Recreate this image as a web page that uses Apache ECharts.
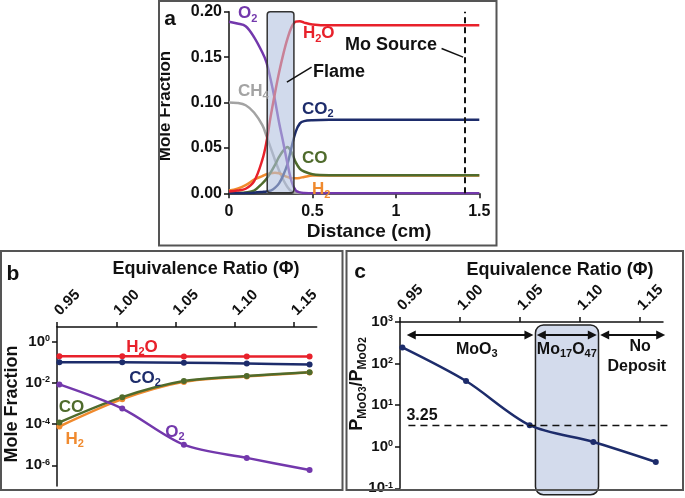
<!DOCTYPE html>
<html><head><meta charset="utf-8">
<script src="https://cdn.jsdelivr.net/npm/echarts@6/dist/echarts.min.js"></script>
<style>html,body{margin:0;padding:0;background:#fff}#c{width:685px;height:498px}</style>
</head><body><div id="c"></div><script>
// ---------- Panel a: mole fraction vs distance ----------
const distance = [0,0.05,0.1,0.15,0.2,0.225,0.25,0.275,0.3,0.325,0.35,0.375,0.4,0.425,0.45,0.5,0.6,0.8,1.0,1.2,1.5];
const aO2  = [0.189,0.187,0.184,0.172,0.155,0.144,0.125,0.103,0.078,0.056,0.033,0.013,0.003,0.001,0.0004,0,0,0,0,0,0];
const aH2O = [0.002,0.003,0.005,0.013,0.037,0.057,0.085,0.110,0.133,0.153,0.170,0.183,0.189,0.1895,0.188,0.186,0.185,0.185,0.185,0.185,0.185];
const aCH4 = [0.100,0.0995,0.097,0.089,0.075,0.063,0.050,0.037,0.025,0.015,0.007,0.002,0.0005,0,0,0,0,0,0,0,0];
const aCO2 = [0,0,0.0003,0.0007,0.0015,0.002,0.003,0.006,0.011,0.020,0.032,0.051,0.068,0.077,0.0795,0.0805,0.081,0.081,0.081,0.081,0.081];
const aCO  = [0,0.0005,0.001,0.003,0.011,0.016,0.023,0.031,0.040,0.047,0.051,0.045,0.034,0.027,0.024,0.021,0.020,0.020,0.020,0.020,0.020];
const aH2  = [0.003,0.005,0.009,0.015,0.019,0.021,0.022,0.0225,0.022,0.020,0.018,0.0165,0.0165,0.017,0.018,0.0195,0.0195,0.0195,0.0195,0.0195,0.0195];
const distTicks = [0,0.5,1,1.5];
const fracTicks = [0,0.05,0.10,0.15,0.20];
const moSource = 1.413;
const flameRange = [0.229, 0.389];

// ---------- Panel b: mole fraction vs equivalence ratio ----------
const phiB = [0.952,1.005,1.057,1.110,1.163];
const bH2O = [0.19,0.19,0.188,0.187,0.185];
const bCO2 = [0.098,0.097,0.092,0.086,0.076];
const bCO  = [1.2e-4,2.0e-3,0.012,0.021,0.032];
const bH2  = [7.6e-5,1.6e-3,0.011,0.020,0.031];
const bO2  = [8.3e-3,5.6e-4,1.0e-5,2.3e-6,6.0e-7];
const phiTicks = [0.95,1.00,1.05,1.10,1.15];
const bLogTicks = [1,1e-2,1e-4,1e-6];

// ---------- Panel c: P_MoO3/P_MoO2 ----------
const phiC = [0.952,1.005,1.058,1.111,1.163];
const cRatio = [245,38,3.3,1.3,0.43];
const cLogTicks = [1000,100,10,1,0.1];
const threshold = 3.25;
const thresholdSpan = [0.957, 1.175];
const regionBounds = [0.9556,1.0611,1.0639,1.1139,1.1167,1.1708];
const mo17Range = [1.0628,1.1153];

const FONT = '"Liberation Sans", Arial, sans-serif';
const C = {O2:'#7338ac', H2O:'#e8212b', CH4:'#a3a3a3', CO2:'#1d2c6b', CO:'#4f6b2c', H2:'#f08a2e', ink:'#111'};

const chart = echarts.init(document.getElementById('c'));
const zip = (xs, ys) => xs.map((x,i)=>[x, ys[i]]);
const supFmt = v => '10{e|' + Math.round(Math.log10(v)) + '}';
const supRich = {e:{fontSize:9, fontWeight:'bold', fontFamily:FONT, verticalAlign:'top', lineHeight:8, color:C.ink}};

const baseAxis = {
  axisLine:{lineStyle:{color:C.ink, width:1.5}},
  axisTick:{lineStyle:{color:C.ink, width:1.5}, length:5},
  splitLine:{show:false},
  axisLabel:{color:C.ink, fontWeight:'bold', fontFamily:FONT}
};

function lineA(name, ys, color, extra) {
  return Object.assign({type:'line', name, xAxisIndex:0, yAxisIndex:0, data:zip(distance, ys),
    smooth:0.35, showSymbol:false, symbol:'none', lineStyle:{color, width:2.5}, itemStyle:{color}, z:3}, extra||{});
}
function lineB(name, ys, color) {
  return {type:'line', name, xAxisIndex:1, yAxisIndex:1, data:zip(phiB, ys), smooth:0.3,
    symbol:'circle', symbolSize:6, lineStyle:{color, width:2.5}, itemStyle:{color}, z:3};
}
const topLabel = Object.assign({}, baseAxis.axisLabel, {fontSize:15, rotate:-45, margin:14, customValues:phiTicks, formatter:v=>v.toFixed(2)});

chart.setOption({
  animation:false,
  textStyle:{fontFamily:FONT},
  grid:[
    {left:229, top:11.7, width:250.3, height:181.6},
    {left:57, top:327, width:259.7, height:159},
    {left:400, top:322, width:263, height:166.3}
  ],
  xAxis:[
    Object.assign({}, baseAxis, {gridIndex:0, type:'value', min:0, max:1.5, interval:0.5,
      axisLabel:Object.assign({}, baseAxis.axisLabel, {fontSize:16, margin:10})}),
    Object.assign({}, baseAxis, {gridIndex:1, type:'value', position:'top', min:0.95, max:1.169,
      axisLabel:topLabel, axisTick:Object.assign({}, baseAxis.axisTick, {customValues:phiTicks})}),
    Object.assign({}, baseAxis, {gridIndex:2, type:'value', position:'top', min:0.95, max:1.169,
      axisLabel:topLabel, axisTick:Object.assign({}, baseAxis.axisTick, {customValues:phiTicks})})
  ],
  yAxis:[
    Object.assign({}, baseAxis, {gridIndex:0, type:'value', min:0, max:0.2, interval:0.05,
      axisLabel:Object.assign({}, baseAxis.axisLabel, {fontSize:16, margin:7, formatter:v=>v.toFixed(2)})}),
    Object.assign({}, baseAxis, {gridIndex:1, type:'log', logBase:10, min:1e-7, max:5,
      axisLabel:Object.assign({}, baseAxis.axisLabel, {fontSize:15, margin:7, customValues:bLogTicks, formatter:supFmt, rich:supRich}),
      axisTick:Object.assign({}, baseAxis.axisTick, {customValues:bLogTicks})}),
    Object.assign({}, baseAxis, {gridIndex:2, type:'log', logBase:10, min:0.1, max:1000,
      axisLabel:Object.assign({}, baseAxis.axisLabel, {fontSize:15, margin:7, customValues:cLogTicks, formatter:supFmt, rich:supRich}),
      axisTick:Object.assign({}, baseAxis.axisTick, {customValues:cLogTicks})})
  ],
  series:[
    lineA('CH4', aCH4, C.CH4),
    lineA('H2', aH2, C.H2),
    lineA('CO', aCO, C.CO),
    lineA('CO2', aCO2, C.CO2),
    lineA('O2', aO2, C.O2),
    lineA('H2O', aH2O, C.H2O, {markLine:{silent:true, symbol:['none','none'], label:{show:false},
      lineStyle:{color:C.ink, width:2, type:[6,4]}, data:[{xAxis:moSource}]}}),
    lineB('H2O', bH2O, C.H2O),
    lineB('CO2', bCO2, C.CO2),
    lineB('H2', bH2, C.H2),
    lineB('CO', bCO, C.CO),
    lineB('O2', bO2, C.O2),
    {type:'line', name:'ratio', xAxisIndex:2, yAxisIndex:2, data:zip(phiC, cRatio), smooth:0.3,
      symbol:'circle', symbolSize:6, lineStyle:{color:C.CO2, width:2.5}, itemStyle:{color:C.CO2}, z:3}
  ]
});

// ---------- annotations positioned through the axes ----------
const P = (g, x, y) => chart.convertToPixel({gridIndex:g}, [x, y]);
function richFor(size) {
  return {
    s:{fontSize:Math.round(size*0.66), fontWeight:'bold', fontFamily:FONT, verticalAlign:'bottom', lineHeight:Math.round(size*0.62)},
    ss:{fontSize:Math.round(size*0.55), fontWeight:'bold', fontFamily:FONT, verticalAlign:'bottom', lineHeight:Math.round(size*0.3)}
  };
}
function txt(x, y, text, color, size, align, extra) {
  return Object.assign({type:'text', x, y, z:30, style:{text, fill:color, fontSize:size, fontWeight:'bold', fontFamily:FONT,
    align:align||'left', verticalAlign:'middle', lineHeight:Math.round(size*1.25), rich:richFor(size)}}, extra||{});
}
function dtxt(g, x, y, text, color, size, align) { const p = P(g, x, y); return txt(p[0], p[1], text, color, size, align); }
function seg(g, a, b, w, dash) {
  const p1 = P(g, a[0], a[1]), p2 = P(g, b[0], b[1]);
  return {type:'line', z:25, shape:{x1:p1[0], y1:p1[1], x2:p2[0], y2:p2[1]}, style:{stroke:C.ink, lineWidth:w||1.5, lineDash:dash||null}};
}
function arrow(g, x1, x2, y) {
  const a = P(g, x1, y), b = P(g, x2, y), h = 9, w = 4.5;
  return [
    {type:'line', z:25, shape:{x1:a[0]+h-1, y1:a[1], x2:b[0]-h+1, y2:b[1]}, style:{stroke:C.ink, lineWidth:2}},
    {type:'polygon', z:25, shape:{points:[[a[0],a[1]],[a[0]+h,a[1]-w],[a[0]+h,a[1]+w]]}, style:{fill:C.ink}},
    {type:'polygon', z:25, shape:{points:[[b[0],b[1]],[b[0]-h,b[1]-w],[b[0]-h,b[1]+w]]}, style:{fill:C.ink}}
  ];
}

const fl0 = P(0, flameRange[0], 0.2), fl1 = P(0, flameRange[1], 0.0006);
const mo0 = P(2, mo17Range[0], 1000), mo1 = P(2, mo17Range[1], 0.07);

const els = [
  // panel frames
  {type:'rect', z:40, shape:{x:159, y:1, width:337.5, height:244.5}, style:{fill:'none', stroke:'#555', lineWidth:2}},
  {type:'rect', z:40, shape:{x:1, y:251, width:341.5, height:239}, style:{fill:'none', stroke:'#555', lineWidth:2}},
  {type:'rect', z:40, shape:{x:346.5, y:251, width:336.5, height:239}, style:{fill:'none', stroke:'#555', lineWidth:2}},
  // flame box (over curves, translucent)
  {type:'rect', z:20, shape:{x:fl0[0], y:fl0[1], width:fl1[0]-fl0[0], height:fl1[1]-fl0[1], r:3},
    style:{fill:'rgba(178,194,224,0.6)', stroke:'#333', lineWidth:1.5}},
  // Mo17O47 region box (under curve)
  {type:'rect', z:1, shape:{x:mo0[0], y:mo0[1]+3, width:mo1[0]-mo0[0], height:mo1[1]-mo0[1]-3, r:8},
    style:{fill:'#d3dbec', stroke:'#222', lineWidth:1.5}},
  // threshold line
  seg(2, [thresholdSpan[0], threshold], [thresholdSpan[1], threshold], 1.5, [7,5]),
  // panel letters
  txt(170, 19, 'a', C.ink, 21, 'center'),
  txt(13, 274, 'b', C.ink, 21, 'center'),
  txt(360, 272, 'c', C.ink, 21, 'center'),
  // axis titles
  txt(369, 232, 'Distance (cm)', C.ink, 19, 'center'),
  txt(165, 106, 'Mole Fraction', C.ink, 17, 'center', {rotation:Math.PI/2}),
  txt(206, 269, 'Equivalence Ratio (Φ)', C.ink, 18, 'center'),
  txt(12, 404, 'Mole Fraction', C.ink, 18, 'center', {rotation:Math.PI/2}),
  txt(560, 270, 'Equivalence Ratio (Φ)', C.ink, 18, 'center'),
  txt(357, 384, 'P{s|MoO}{ss|3}/P{s|MoO}{ss|2}', C.ink, 18, 'center', {rotation:Math.PI/2}),
  // panel a labels
  dtxt(0, 0.054, 0.198, 'O{s|2}', C.O2, 17),
  dtxt(0, 0.443, 0.176, 'H{s|2}O', C.H2O, 17),
  dtxt(0, 0.054, 0.1125, 'CH{s|4}', C.CH4, 17),
  dtxt(0, 0.437, 0.093, 'CO{s|2}', C.CO2, 17),
  dtxt(0, 0.437, 0.0388, 'CO', C.CO, 17),
  dtxt(0, 0.497, 0.004, 'H{s|2}', C.H2, 17),
  dtxt(0, 0.503, 0.1334, 'Flame', C.ink, 18),
  dtxt(0, 0.695, 0.163, 'Mo Source', C.ink, 18),
  seg(0, [0.347, 0.1224], [0.495, 0.139], 1.5),
  seg(0, [1.274, 0.1595], [1.403, 0.150], 1.5),
  // panel b labels
  dtxt(1, 1.0217, 0.54, 'H{s|2}O', C.H2O, 17, 'center'),
  dtxt(1, 1.0242, 0.017, 'CO{s|2}', C.CO2, 17, 'center'),
  dtxt(1, 0.9622, 6.4e-4, 'CO', C.CO, 17, 'center'),
  dtxt(1, 0.9650, 1.9e-5, 'H{s|2}', C.H2, 17, 'center'),
  dtxt(1, 1.0495, 4.2e-5, 'O{s|2}', C.O2, 17, 'center'),
  // panel c labels
  dtxt(2, 1.0139, 215, 'MoO{s|3}', C.ink, 16, 'center'),
  dtxt(2, 1.0889, 215, 'Mo{s|17}O{s|47}', C.ink, 16, 'center'),
  dtxt(2, 1.150, 254, 'No', C.ink, 16, 'center'),
  dtxt(2, 1.1472, 84, 'Deposit', C.ink, 16, 'center'),
  dtxt(2, 0.9683, 5.74, '3.25', C.ink, 16, 'center')
].concat(
  arrow(2, regionBounds[0], regionBounds[1], 487),
  arrow(2, regionBounds[2], regionBounds[3], 487),
  arrow(2, regionBounds[4], regionBounds[5], 487)
);
chart.setOption({graphic:{elements:els}});
</script></body></html>
